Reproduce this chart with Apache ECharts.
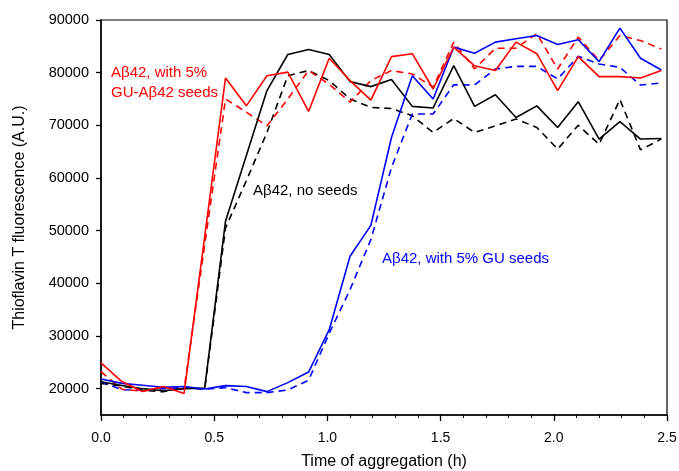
<!DOCTYPE html>
<html>
<head>
<meta charset="utf-8">
<script src="https://cdn.jsdelivr.net/npm/echarts@6/dist/echarts.min.js"></script>
<style>
html,body{margin:0;padding:0;background:#fff;}
#c{width:679px;height:471px;}
</style>
</head>
<body>
<div id="c"></div>
<script>
const time = [0, 0.092, 0.183, 0.275, 0.367, 0.458, 0.55, 0.642, 0.733, 0.825, 0.917, 1.008, 1.1, 1.192, 1.283, 1.375, 1.467, 1.558, 1.65, 1.742, 1.833, 1.925, 2.017, 2.108, 2.2, 2.292, 2.383, 2.475];

const redSolid = [24900, 21350, 19450, 20400, 19100, null, 79000, 73700, 79400, 80100, 72650, 82750, 78500, 74800, 83050, 83600, 76900, 84850, 81300, 80400, 85800, 83600, 76600, 83050, 79250, 79250, 79000, 80400];
const redDashed = [23250, 19900, 19500, 20300, 19900, null, 75000, 72500, 69900, 75000, 80400, 77800, 74400, 78500, 80400, 79750, 77250, 85800, 80700, 84650, 84650, 87400, 80700, 86750, 82300, 87050, 86100, 84500];
const blackSolid = [21300, 20600, 20000, 19600, 20000, 20100, 51800, null, 76600, 83450, 84400, 83450, 78300, 77350, 78700, 73600, 73300, 81350, 73600, 75800, 71500, 73700, 69600, 74500, 67400, 70700, 67400, 67500];
const blackDashed = [21000, 20500, 19700, 19400, 20200, 19900, 50500, 59500, 68650, 79400, 80400, 78500, 75000, 73400, 73200, 71800, 68650, 71300, 68650, 69900, 71200, 69600, 65500, 70000, 66400, 74900, 65350, 67400];
const blueSolid = [21850, 21000, 20650, 20270, 20400, 19950, 20580, 20400, 19440, 21150, 23150, 31200, 45150, 51000, 67700, 79400, 75000, 84850, 83700, 85800, 86450, 87050, 85350, 86250, 82100, 88450, 82750, 80500];
const blueDashed = [21300, 19800, 19700, 20000, 20200, 19900, 20200, 19250, 19250, 19760, 21600, 30500, 38800, 48300, 62000, 72150, 72150, 77700, 77650, 80700, 81200, 81200, 78800, 83100, 81650, 81000, 77650, 78050];

const yTicks = [20000, 30000, 40000, 50000, 60000, 70000, 80000, 90000];

const labelRed1 = 'A\u03b242, with 5%';
const labelRed2 = 'GU-A\u03b242 seeds';
const labelBlack = 'A\u03b242, no seeds';
const labelBlue = 'A\u03b242, with 5% GU seeds';

function pairs(vals){ return time.map((t,i)=>[t, vals[i]]); }
function mk(name, vals, color, dashed){
  return {
    name: name, type: 'line', data: pairs(vals), connectNulls: true,
    showSymbol: false, symbol: 'none', animation: false,
    lineStyle: {color: color, width: 1.6, type: dashed ? [7,5] : 'solid'},
    z: dashed ? 2 : 3
  };
}

const chart = echarts.init(document.getElementById('c'));
const font = '"Liberation Sans", Arial, sans-serif';
chart.setOption({
  animation: false,
  backgroundColor: '#fff',
  grid: {left: 101, right: 12, top: 20, bottom: 56, show: true, borderColor: '#000', borderWidth: 1.2,
    containLabel: false, outerBoundsMode: 'none'},
  xAxis: {
    type: 'value', min: 0, max: 2.5, interval: 0.5,
    name: 'Time of aggregation (h)', nameLocation: 'middle', nameGap: 39,
    nameTextStyle: {fontFamily: font, fontSize: 16, color: '#000'},
    axisLine: {show: true, lineStyle: {color: '#000', width: 1.5}},
    axisTick: {show: true, length: 6, lineStyle: {color: '#000', width: 1.3}},
    minorTick: {show: true, splitNumber: 5, length: 3, lineStyle: {color: '#000', width: 1}},
    splitLine: {show: false},
    axisLabel: {fontFamily: font, fontSize: 14, color: '#000', margin: 16,
      formatter: v => v.toFixed(1)}
  },
  yAxis: {
    type: 'value', min: 15000, max: 90000,
    name: 'Thioflavin T fluorescence (A.U.)', nameLocation: 'middle', nameGap: 73,
    nameTextStyle: {fontFamily: font, fontSize: 16, color: '#000'},
    axisLine: {show: true, lineStyle: {color: '#000', width: 1.5}},
    axisTick: {show: true, length: 5, lineStyle: {color: '#000', width: 1.3}, customValues: yTicks},
    splitLine: {show: false},
    axisLabel: {fontFamily: font, fontSize: 14.5, color: '#000', margin: 12, customValues: yTicks,
      formatter: v => String(v)}
  },
  graphic: [
    {type: 'text', left: 111, top: 65, style: {text: labelRed1, fontFamily: font, fontSize: 15, fill: '#ff0000'}},
    {type: 'text', left: 111, top: 85, style: {text: labelRed2, fontFamily: font, fontSize: 15, fill: '#ff0000'}},
    {type: 'text', left: 253, top: 183, style: {text: labelBlack, fontFamily: font, fontSize: 15, fill: '#000'}},
    {type: 'text', left: 382, top: 251, style: {text: labelBlue, fontFamily: font, fontSize: 15, fill: '#0000ff'}}
  ],
  series: [
    mk('black dashed', blackDashed, '#000000', true),
    mk('blue dashed', blueDashed, '#0000ff', true),
    mk('red dashed', redDashed, '#ff0000', true),
    mk('black', blackSolid, '#000000', false),
    mk('blue', blueSolid, '#0000ff', false),
    mk('red', redSolid, '#ff0000', false)
  ]
});
</script>
</body>
</html>
